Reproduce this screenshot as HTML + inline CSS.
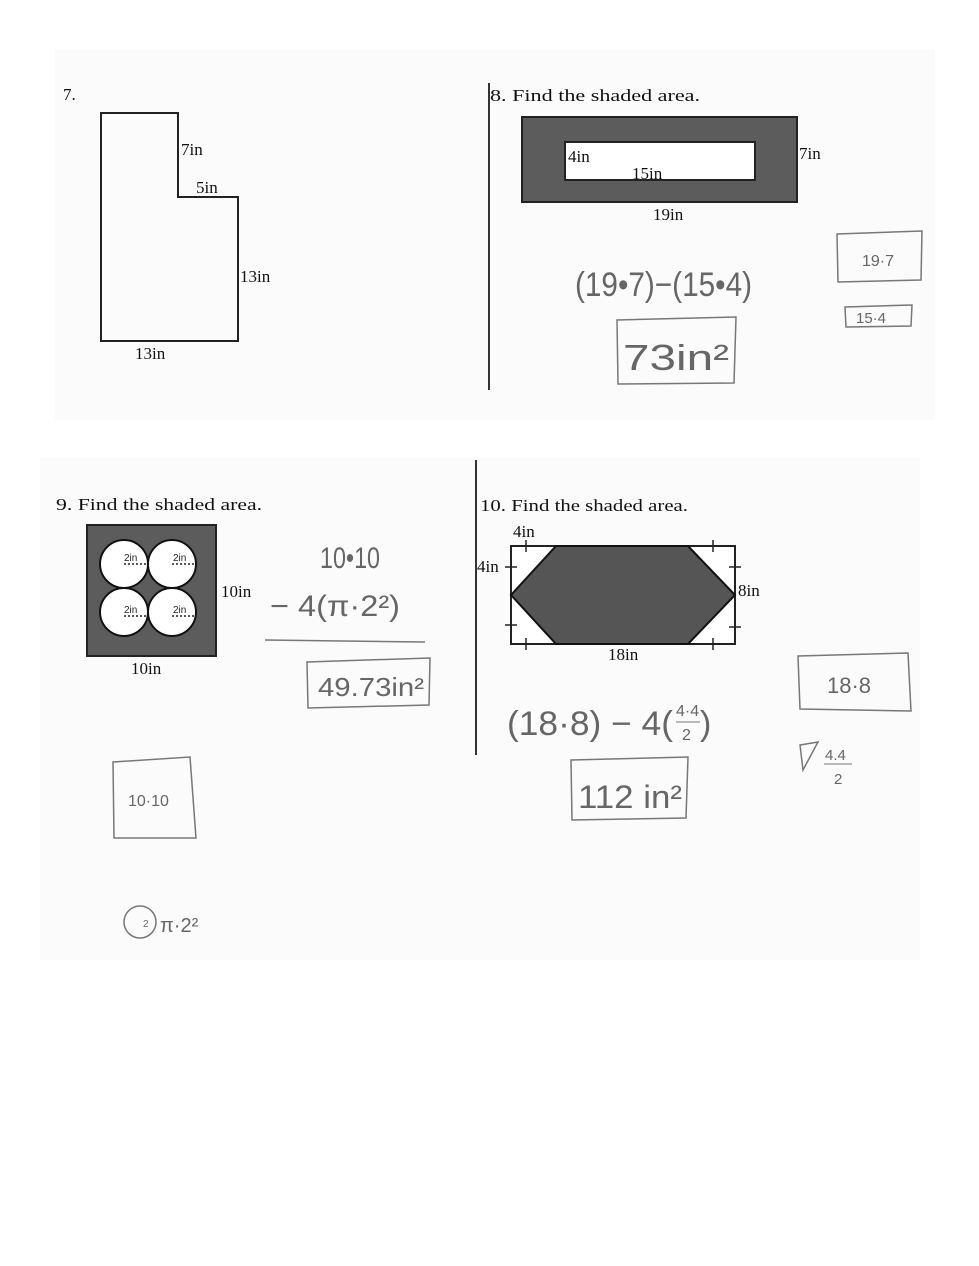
<!DOCTYPE html>
<html><head><meta charset="utf-8"><style>
body{margin:0;background:#fff;}
svg{display:block;}
.s{font-family:"Liberation Serif",serif;font-size:17px;fill:#111;}
.h{font-family:"Liberation Sans",sans-serif;fill:#666;font-weight:300;}
</style></head><body>
<svg width="979" height="1266" viewBox="0 0 979 1266" xmlns="http://www.w3.org/2000/svg">
<rect x="55" y="50" width="880" height="370" fill="#fbfbfb"/>
<rect x="40" y="458" width="880" height="502" fill="#fbfbfb"/>
<!-- 7 -->
<text class="s" x="63" y="100" font-size="19">7.</text>
<path d="M101,113H178V197H238V341H101Z" fill="none" stroke="#222" stroke-width="2"/>
<text class="s" x="181" y="155">7in</text>
<text class="s" x="196" y="193">5in</text>
<text class="s" x="240" y="282">13in</text>
<text class="s" x="135" y="359">13in</text>
<!-- 8 -->
<line x1="489" y1="83" x2="489" y2="390" stroke="#333" stroke-width="2"/>
<text class="s" x="490" y="101" font-size="19" textLength="210" lengthAdjust="spacingAndGlyphs">8.  Find the shaded area.</text>
<rect x="522" y="117" width="275" height="85" fill="#5c5c5c" stroke="#222" stroke-width="2"/>
<rect x="565" y="142" width="190" height="38" fill="#fff" stroke="#222" stroke-width="2"/>
<text class="s" x="568" y="162">4in</text>
<text class="s" x="632" y="179">15in</text>
<text class="s" x="799" y="159">7in</text>
<text class="s" x="653" y="220">19in</text>
<text class="h" x="575" y="296" font-size="34" textLength="177" lengthAdjust="spacingAndGlyphs">(19•7)−(15•4)</text>
<path d="M617,320L736,317L734,383L618,384Z" fill="none" stroke="#777" stroke-width="1.5"/>
<text class="h" x="623" y="370" font-size="36" textLength="106" lengthAdjust="spacingAndGlyphs">73in²</text>
<path d="M837,234L922,231L921,280L838,282Z" fill="none" stroke="#777" stroke-width="1.5"/>
<text class="h" x="862" y="266" font-size="16">19·7</text>
<path d="M845,307L912,305L911,326L846,327Z" fill="none" stroke="#777" stroke-width="1.5"/>
<text class="h" x="856" y="323" font-size="15">15·4</text>
<!-- 9 -->
<text class="s" x="56" y="510" font-size="19" textLength="206" lengthAdjust="spacingAndGlyphs">9.  Find the shaded area.</text>
<rect x="87" y="525" width="129" height="131" fill="#5c5c5c" stroke="#222" stroke-width="2"/>
<g fill="#fff" stroke="#111" stroke-width="2">
<circle cx="124" cy="564" r="24"/><circle cx="172" cy="564" r="24"/>
<circle cx="124" cy="612" r="24"/><circle cx="172" cy="612" r="24"/></g>
<g font-family="Liberation Sans,sans-serif" font-size="10" fill="#222">
<text x="124" y="561">2in</text><text x="173" y="561">2in</text>
<text x="124" y="613">2in</text><text x="173" y="613">2in</text></g>
<g stroke="#222" stroke-dasharray="2,2" stroke-width="1.5">
<line x1="124" y1="564" x2="148" y2="564"/><line x1="172" y1="564" x2="196" y2="564"/>
<line x1="124" y1="616" x2="148" y2="616"/><line x1="172" y1="616" x2="196" y2="616"/></g>
<text class="s" x="221" y="597">10in</text>
<text class="s" x="131" y="674">10in</text>
<text class="h" x="320" y="568" font-size="30" textLength="60" lengthAdjust="spacingAndGlyphs">10•10</text>
<text class="h" x="270" y="616" font-size="30" textLength="130" lengthAdjust="spacingAndGlyphs">− 4(π·2²)</text>
<line x1="265" y1="640" x2="425" y2="642" stroke="#777" stroke-width="1.5"/>
<path d="M307,662L430,658L429,705L308,708Z" fill="none" stroke="#777" stroke-width="1.5"/>
<text class="h" x="318" y="696" font-size="26" textLength="106" lengthAdjust="spacingAndGlyphs">49.73in²</text>
<path d="M113,762L190,757L196,838L114,838Z" fill="none" stroke="#777" stroke-width="1.5"/>
<text class="h" x="128" y="806" font-size="16">10·10</text>
<circle cx="140" cy="922" r="16" fill="none" stroke="#777" stroke-width="1.5"/>
<text class="h" x="143" y="927" font-size="10">2</text>
<text class="h" x="160" y="932" font-size="20">π·2²</text>
<!-- 10 -->
<line x1="476" y1="460" x2="476" y2="755" stroke="#333" stroke-width="2"/>
<text class="s" x="480" y="511" font-size="19" textLength="208" lengthAdjust="spacingAndGlyphs">10. Find the shaded area.</text>
<rect x="511" y="546" width="224" height="98" fill="#fff" stroke="#222" stroke-width="2"/>
<path d="M556,546L688,546L735,595L688,644L556,644L511,595Z" fill="#555" stroke="#111" stroke-width="2"/>
<g stroke="#222" stroke-width="1.5">
<line x1="526" y1="540" x2="526" y2="552"/><line x1="713" y1="540" x2="713" y2="552"/>
<line x1="526" y1="638" x2="526" y2="650"/><line x1="713" y1="638" x2="713" y2="650"/>
<line x1="505" y1="567" x2="517" y2="567"/><line x1="505" y1="625" x2="517" y2="625"/>
<line x1="729" y1="567" x2="741" y2="567"/><line x1="729" y1="627" x2="741" y2="627"/></g>
<text class="s" x="513" y="537">4in</text>
<text class="s" x="477" y="572">4in</text>
<text class="s" x="738" y="596">8in</text>
<text class="s" x="608" y="660">18in</text>
<text class="h" x="507" y="735" font-size="34" textLength="166" lengthAdjust="spacingAndGlyphs">(18·8) − 4(</text>
<text class="h" x="676" y="716" font-size="16">4·4</text>
<line x1="676" y1="722" x2="700" y2="722" stroke="#777"/>
<text class="h" x="682" y="740" font-size="16">2</text>
<text class="h" x="700" y="735" font-size="34">)</text>
<path d="M571,760L688,757L686,818L572,820Z" fill="none" stroke="#777" stroke-width="1.5"/>
<text class="h" x="578" y="808" font-size="32" textLength="104" lengthAdjust="spacingAndGlyphs">112 in²</text>
<path d="M798,656L908,653L911,711L800,709Z" fill="none" stroke="#777" stroke-width="1.5"/>
<text class="h" x="827" y="693" font-size="22">18·8</text>
<path d="M800,745L818,742L803,770Z" fill="none" stroke="#777" stroke-width="1.5"/>
<text class="h" x="825" y="760" font-size="15">4.4</text>
<line x1="824" y1="764" x2="852" y2="764" stroke="#777"/>
<text class="h" x="834" y="784" font-size="15">2</text>
</svg>
</body></html>
